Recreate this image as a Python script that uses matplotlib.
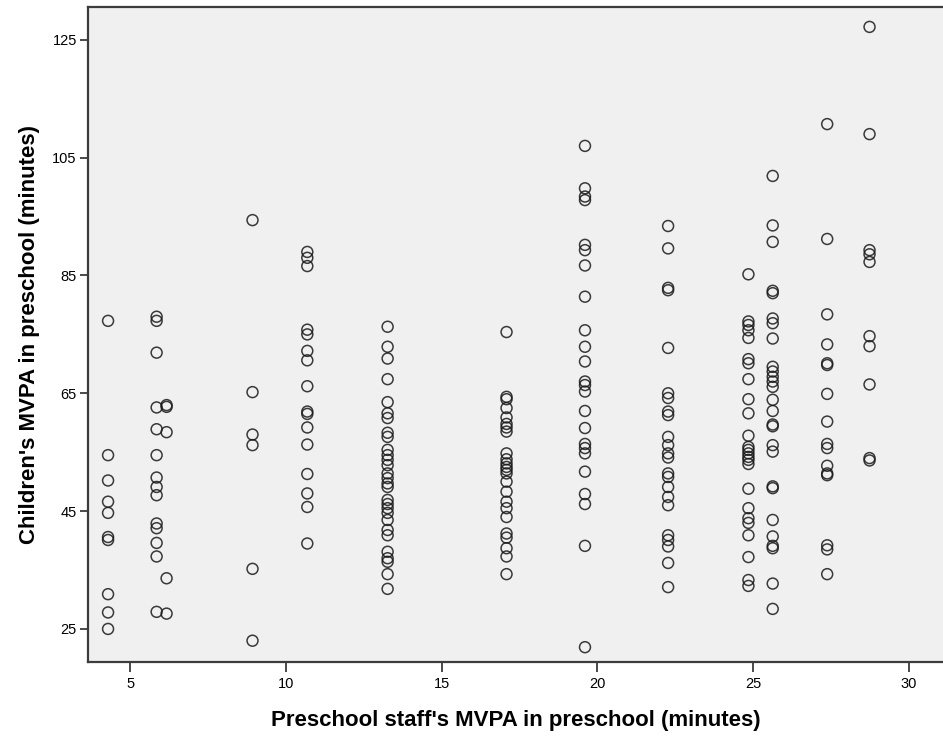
import matplotlib
matplotlib.use("Agg")
import matplotlib.pyplot as plt

# staff MVPA (minutes) for each preschool, one value per column of points
staff_mvpa = [4.28, 5.84, 6.16, 8.92, 10.68, 13.26, 17.08, 19.6, 22.27, 24.85, 25.63, 27.38, 28.74]

# children's MVPA (minutes) in each preschool
kids_a = [77.3, 54.5, 50.2, 46.6, 44.7, 40.6, 40.1, 30.9, 27.8, 25.0]
kids_b = [78.0, 77.3, 71.9, 62.6, 58.9, 54.5, 50.7, 49.1, 47.7, 42.9, 42.1, 39.6, 37.3, 27.9]
kids_c = [63.0, 62.7, 58.4, 33.6, 27.6]
kids_d = [94.4, 65.2, 58.0, 56.2, 35.2, 23.0]
kids_e = [89.0, 88.0, 86.6, 75.8, 75.0, 72.2, 70.6, 66.2, 61.9, 61.5, 59.2, 56.3, 51.3, 48.0, 45.7, 39.5]
kids_f = [76.3, 72.9, 70.9, 67.4, 63.5, 61.6, 60.8, 58.3, 57.6, 55.4, 54.5, 53.7, 52.8, 51.4,
          50.6, 49.7, 49.1, 46.9, 46.2, 45.5, 44.7, 43.5, 41.8, 40.9, 38.1, 37.0, 36.4, 34.3, 31.8]
kids_g = [75.4, 64.4, 64.0, 62.5, 60.9, 59.8, 59.2, 58.5, 54.8, 53.8, 53.1, 52.5, 52.0, 51.4,
          50.0, 48.3, 46.6, 45.5, 44.0, 41.2, 40.5, 38.7, 37.3, 34.3]
kids_h = [107.0, 99.8, 98.4, 97.8, 90.2, 89.3, 86.7, 81.4, 75.7, 72.9, 70.4, 67.0, 66.4, 65.3,
          62.0, 59.1, 56.4, 55.7, 54.8, 51.7, 47.9, 46.2, 39.1, 21.9]
kids_i = [93.4, 89.6, 82.9, 82.5, 72.7, 65.0, 64.2, 61.9, 61.3, 57.6, 56.2, 54.8, 54.1, 51.4,
          50.8, 49.1, 47.4, 46.0, 40.9, 40.1, 39.0, 36.2, 32.1]
kids_j = [85.2, 77.2, 76.6, 75.7, 74.4, 70.8, 70.1, 67.4, 64.0, 61.6, 57.8, 55.9, 55.4, 54.8,
          54.2, 53.7, 53.0, 48.8, 45.5, 43.8, 43.0, 40.9, 37.2, 33.3, 32.3]
kids_k = [101.9, 93.5, 90.7, 82.4, 82.0, 77.7, 76.9, 74.3, 69.5, 68.7, 67.8, 67.0, 66.1, 63.9,
          62.0, 59.7, 59.4, 56.2, 55.1, 49.2, 48.9, 43.5, 40.7, 39.1, 38.7, 32.7, 28.4]
kids_l = [110.7, 91.2, 78.4, 73.3, 70.1, 69.8, 64.9, 60.2, 56.4, 55.7, 52.7, 51.4, 51.1, 39.2, 38.5, 34.3]
kids_m = [127.2, 109.0, 89.3, 88.6, 87.3, 74.7, 73.0, 66.5, 54.0, 53.6]

children_mvpa = [kids_a, kids_b, kids_c, kids_d, kids_e, kids_f, kids_g,
                 kids_h, kids_i, kids_j, kids_k, kids_l, kids_m]

x_ticks = [5, 10, 15, 20, 25, 30]
y_ticks = [25, 45, 65, 85, 105, 125]

plt.rcParams['font.family'] = ['Liberation Sans', 'DejaVu Sans']

fig = plt.figure(figsize=(9.43, 7.36), dpi=100)
ax = fig.add_axes([0.0933, 0.1009, 0.9067, 0.8892])
ax.set_facecolor('#f0f0f0')

# flatten into x/y pairs
xs = []
ys = []
for staff, kids in zip(staff_mvpa, children_mvpa):
    for k in kids:
        xs.append(staff)
        ys.append(k)

ax.scatter(xs, ys, s=62, facecolors='none', edgecolors='#1a1a1a',
           linewidths=1.1, alpha=0.85, zorder=3)

ax.set_xlim(3.635, 31.10)
ax.set_ylim(19.43, 130.53)
ax.set_xticks(x_ticks)
ax.set_yticks(y_ticks)

for side in ['left', 'bottom', 'top']:
    ax.spines[side].set_color('#3c3c3c')
    ax.spines[side].set_linewidth(1.6)
ax.spines['right'].set_visible(False)

ax.tick_params(axis='x', direction='out', length=7, width=1.3, color='#3c3c3c',
               labelsize=10.5, pad=4)
ax.tick_params(axis='y', direction='out', length=6, width=1.3, color='#3c3c3c',
               labelsize=10.5, pad=2)

ax.set_xlabel("Preschool staff's MVPA in preschool (minutes)", fontsize=16,
              fontweight='bold', labelpad=14)
ax.set_ylabel("Children's MVPA in preschool (minutes)", fontsize=16,
              fontweight='bold', labelpad=9)

fig.savefig('out.png', dpi=100)
